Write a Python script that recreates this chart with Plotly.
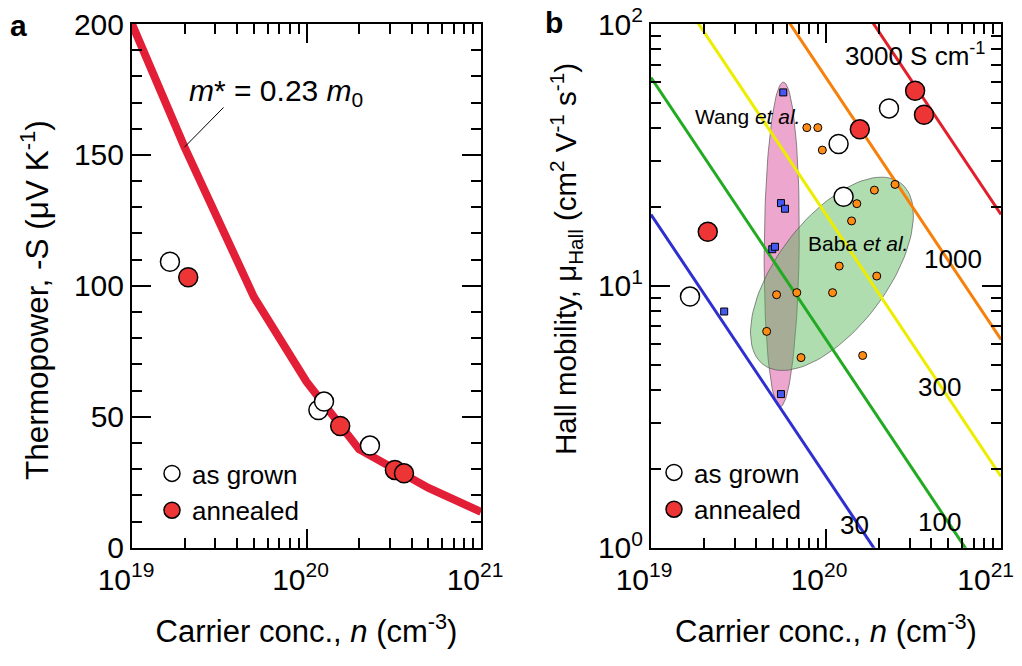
import numpy as np
import plotly.graph_objects as go

FONT = "Liberation Sans, Arial, sans-serif"

# ---------------- Panel a data ----------------
curve_n = [1e19, 2e19, 5e19, 1e20, 2e20, 5e20, 1e21]
curve_S = [200, 153, 95.7, 63.4, 37.6, 22.8, 13.7]

seebeck_asgrown_n = [1.65e19, 1.17e20, 1.26e20, 2.31e20]
seebeck_asgrown_S = [109.2, 52.6, 55.8, 39.0]
seebeck_annealed_n = [2.10e19, 1.56e20, 3.21e20, 3.62e20]
seebeck_annealed_S = [103.3, 46.5, 29.7, 28.4]

# ---------------- Panel b data ----------------
hall_asgrown_n = [1.67e19, 1.18e20, 1.26e20, 2.29e20]
hall_asgrown_mu = [9.1, 34.8, 21.9, 47.6]
hall_annealed_n = [2.11e19, 1.56e20, 3.23e20, 3.63e20]
hall_annealed_mu = [16.1, 39.6, 55.6, 45.0]

wang_n = [5.70e19, 5.53e19, 5.83e19, 4.93e19, 5.11e19, 2.62e19, 5.53e19]
wang_mu = [54.8, 20.7, 19.7, 13.8, 14.1, 7.98, 3.86]

baba_n = [7.77e19, 8.98e19, 9.53e19, 1.50e20, 1.89e20, 2.48e20, 1.40e20, 1.19e20,
          1.95e20, 5.22e19, 6.81e19, 1.09e20, 4.58e19, 7.20e19, 1.62e20]
baba_mu = [40.2, 40.2, 33.0, 20.6, 23.2, 24.4, 17.7, 11.9,
           10.9, 9.25, 9.42, 9.42, 6.7, 5.32, 5.42]

sigma_levels = [30, 100, 300, 1000, 3000]          # S cm^-1
sigma_colors = ["#2f2fcf", "#22ab22", "#eded00", "#f7800a", "#e0202a"]
sigma_labels = ["30", "100", "300", "1000", "3000 S cm<sup>-1</sup>"]
sigma_label_logn = [20.16, 20.646, 20.646, 20.723, 20.509]
sigma_label_logmu = [0.088, 0.097, 0.613, 1.103, 1.885]

# tick values
x_major = [1e19, 1e20, 1e21]
x_major_text = ["10<sup>19</sup>", "10<sup>20</sup>", "10<sup>21</sup>"]
x_major_text_b = ["10<sup>19</sup>", "10<sup>20</sup>", "10<sup>21</sup>&nbsp;&nbsp;"]
mu_major = [1, 10, 100]
mu_major_text = ["10<sup>0</sup>", "10<sup>1</sup>", "10<sup>2</sup>"]
S_major_step = 50
S_minor_step = 10

n_range = [1e19, 1e21]
E_CHARGE = 1.602e-19

# ellipses (log-decade centres and conjugate half-axis vectors)
wang_ell = dict(c=(19.747, 1.158), u=(0.1, 0.0), v=(0.0094, 0.62))
baba_ell = dict(c=(20.034, 1.046), u=(0.392, 0.347), v=(-0.251, 0.126))


def ellipse(e, k=120):
    t = np.linspace(0, 2 * np.pi, k)
    lx = e["c"][0] + np.cos(t) * e["u"][0] + np.sin(t) * e["v"][0]
    ly = e["c"][1] + np.cos(t) * e["u"][1] + np.sin(t) * e["v"][1]
    return 10 ** lx, 10 ** ly


fig = go.Figure()

# ---- panel a ----
fig.add_trace(go.Scatter(x=curve_n, y=curve_S, mode="lines",
                         line=dict(color="#e21f37", width=8),
                         showlegend=False, xaxis="x", yaxis="y", hoverinfo="skip"))
fig.add_trace(go.Scatter(x=seebeck_asgrown_n, y=seebeck_asgrown_S, mode="markers",
                         name="as grown",
                         marker=dict(size=19, color="white", line=dict(color="black", width=1.5)),
                         xaxis="x", yaxis="y", legend="legend"))
fig.add_trace(go.Scatter(x=seebeck_annealed_n, y=seebeck_annealed_S, mode="markers",
                         name="annealed",
                         marker=dict(size=19, color="#ee3535", line=dict(color="black", width=1.5)),
                         xaxis="x", yaxis="y", legend="legend"))

# ---- panel b ----
wx, wy = ellipse(wang_ell)
fig.add_trace(go.Scatter(x=wx, y=wy, mode="lines", fill="toself",
                         fillcolor="rgba(220,80,160,0.5)",
                         line=dict(color="rgba(90,90,90,0.7)", width=1),
                         showlegend=False, xaxis="x2", yaxis="y2", hoverinfo="skip"))
bx, by = ellipse(baba_ell)
fig.add_trace(go.Scatter(x=bx, y=by, mode="lines", fill="toself",
                         fillcolor="rgba(80,180,80,0.45)",
                         line=dict(color="rgba(90,90,90,0.7)", width=1),
                         showlegend=False, xaxis="x2", yaxis="y2", hoverinfo="skip"))

for s, col in zip(sigma_levels, sigma_colors):
    mu = [s / (n * E_CHARGE) for n in n_range]
    fig.add_trace(go.Scatter(x=n_range, y=mu, mode="lines",
                             line=dict(color=col, width=3),
                             showlegend=False, xaxis="x2", yaxis="y2", hoverinfo="skip"))

fig.add_trace(go.Scatter(x=wang_n, y=wang_mu, mode="markers",
                         marker=dict(symbol="square", size=7, color="#4658f0",
                                     line=dict(color="black", width=1)),
                         showlegend=False, xaxis="x2", yaxis="y2"))
fig.add_trace(go.Scatter(x=baba_n, y=baba_mu, mode="markers",
                         marker=dict(size=8, color="#ff8c14",
                                     line=dict(color="black", width=1)),
                         showlegend=False, xaxis="x2", yaxis="y2"))
fig.add_trace(go.Scatter(x=hall_asgrown_n, y=hall_asgrown_mu, mode="markers",
                         name="as grown",
                         marker=dict(size=19, color="white", line=dict(color="black", width=1.5)),
                         xaxis="x2", yaxis="y2", legend="legend2"))
fig.add_trace(go.Scatter(x=hall_annealed_n, y=hall_annealed_mu, mode="markers",
                         name="annealed",
                         marker=dict(size=19, color="#ee3535", line=dict(color="black", width=1.5)),
                         xaxis="x2", yaxis="y2", legend="legend2"))

# page body has an 8px margin: figure is placed at (8, 8) in the window
OFF = 8
W, H = 1022, 666


def px(x):
    return (x - OFF) / W


def py(y):
    return 1 - (y - OFF) / H


xa_dom = [px(132), px(481)]
xb_dom = [px(651), px(1001)]
y_dom = [py(547.7), py(24)]

minor_log = dict(ticks="inside", ticklen=10, tickwidth=2, tickcolor="black",
                 showgrid=False, dtick="D1")
minor_lin = dict(ticks="inside", ticklen=10, tickwidth=2, tickcolor="black",
                 showgrid=False, tick0=0, dtick=S_minor_step)

common = dict(showline=True, linewidth=2, linecolor="black", mirror="allticks",
              ticks="inside", ticklen=19, tickwidth=2, tickcolor="black",
              showgrid=False, zeroline=False, automargin=False,
              ticklabeloverflow="allow",
              tickfont=dict(size=30, color="black", family=FONT))

xtitle = dict(text="Carrier conc., <i>n</i> (cm<sup>-3</sup>)",
              font=dict(size=31, color="black", family=FONT), standoff=26)

layout_axes = dict(
    xaxis=dict(common, type="log", range=[19, 21], domain=xa_dom, anchor="y",
               tickmode="array", tickvals=x_major, ticktext=x_major_text, title=xtitle,
               ticklabelstandoff=4, ticklabelshift=-6, minor=minor_log),
    yaxis=dict(common, range=[0, 200], domain=y_dom, anchor="x",
               tick0=0, dtick=S_major_step, minor=minor_lin),
    xaxis2=dict(common, type="log", range=[19, 21], domain=xb_dom, anchor="y2",
                tickmode="array", tickvals=x_major, ticktext=x_major_text_b, title=xtitle,
                ticklabelstandoff=4, ticklabelshift=-7, minor=minor_log),
    yaxis2=dict(common, type="log", range=[0, 2], domain=y_dom, anchor="x2",
                tickmode="array", tickvals=mu_major, ticktext=mu_major_text,
                minor=minor_log),
)

ann_font = dict(size=30, color="black", family=FONT)
annotations = [
    dict(text="<b>a</b>", x=px(18), y=py(25), xref="paper", yref="paper",
         xanchor="center", yanchor="middle", showarrow=False, font=ann_font),
    dict(text="<b>b</b>", x=px(554), y=py(23), xref="paper", yref="paper",
         xanchor="center", yanchor="middle", showarrow=False, font=ann_font),
    dict(text="Thermopower, -S (μV K<sup>-1</sup>)", textangle=-90,
         x=px(35), y=py(300), xref="paper", yref="paper", xanchor="center",
         yanchor="middle", showarrow=False, font=dict(ann_font, size=31.5)),
    dict(text="Hall mobility, μ<sub>Hall</sub> (cm<sup>2</sup> V<sup>-1</sup> s<sup>-1</sup>)",
         textangle=-90, x=px(566), y=py(259), xref="paper", yref="paper",
         xanchor="center", yanchor="middle", showarrow=False, font=dict(ann_font, size=29.5)),
    # m* leader line
    dict(x=np.log10(2e19), y=153, xref="x", yref="y", ax=19.533, ay=168.7,
         axref="x", ayref="y", text="", showarrow=True, arrowhead=0,
         arrowwidth=1, arrowcolor="black", standoff=0),
    dict(text="<i>m</i>* = 0.23 <i>m</i><sub>0</sub>", x=19.828, y=174.0,
         xref="x", yref="y", showarrow=False, font=ann_font),
    dict(text="Wang <i>et al.</i>", x=19.554, y=1.646, xref="x2", yref="y2",
         showarrow=False, font=dict(size=21, color="black", family=FONT)),
    dict(text="Baba <i>et al.</i>", x=20.183, y=1.162, xref="x2", yref="y2",
         showarrow=False, font=dict(size=21, color="black", family=FONT)),
]
for lab, lx, ly in zip(sigma_labels, sigma_label_logn, sigma_label_logmu):
    annotations.append(dict(text=lab, x=lx, y=ly, xref="x2", yref="y2", showarrow=False,
                            font=dict(size=26, color="black", family=FONT)))

legend_style = dict(font=dict(size=26, color="black", family=FONT), bgcolor="rgba(0,0,0,0)",
                    xanchor="left", yanchor="top", itemwidth=30, tracegroupgap=0)

fig.update_layout(
    width=W, height=H, margin=dict(l=0, r=0, t=0, b=0, autoexpand=False),
    paper_bgcolor="white", plot_bgcolor="white",
    font=dict(family=FONT, color="black"),
    annotations=annotations,
    legend=dict(legend_style, x=px(152), y=py(450)),
    legend2=dict(legend_style, x=px(654), y=py(449)),
    **layout_axes,
)

fig.write_html("out.html")
